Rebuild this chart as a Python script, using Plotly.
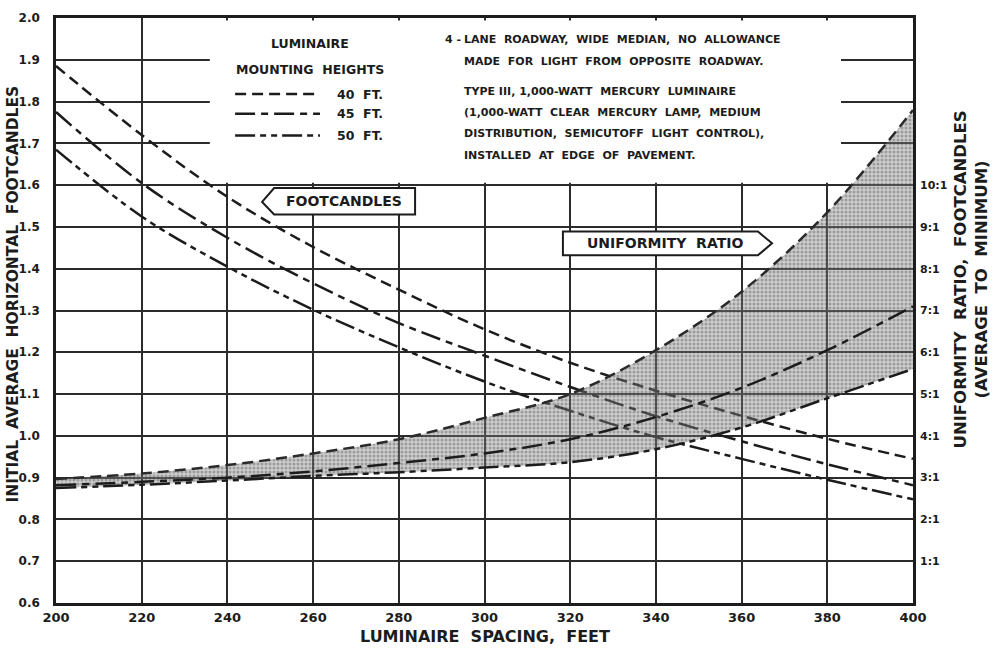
import plotly.graph_objects as go

# Luminaire spacing (feet)
spacing = [200, 220, 240, 260, 280, 300, 320, 340, 360, 380, 400]

# Initial average horizontal footcandles by mounting height
fc_40ft = [1.885, 1.72, 1.572, 1.452, 1.35, 1.255, 1.175, 1.108, 1.048, 0.993, 0.945]
fc_45ft = [1.775, 1.605, 1.474, 1.365, 1.27, 1.192, 1.117, 1.047, 0.987, 0.932, 0.882]
fc_50ft = [1.685, 1.525, 1.405, 1.302, 1.212, 1.13, 1.06, 0.997, 0.945, 0.895, 0.848]

# Uniformity ratio (average to minimum) by mounting height
ratio_40ft = [2.97, 3.1, 3.3, 3.58, 3.92, 4.43, 5.0, 6.05, 7.45, 9.35, 11.8]
ratio_45ft = [2.82, 2.9, 3.0, 3.15, 3.35, 3.58, 3.92, 4.45, 5.15, 6.05, 7.1]
ratio_50ft = [2.75, 2.83, 2.93, 3.04, 3.13, 3.24, 3.37, 3.68, 4.2, 4.9, 5.6]

# Axis ticks
fc_ticks = [round(0.6 + 0.1 * i, 1) for i in range(15)]
ratio_ticks = list(range(1, 11))
ratio_labels = [f"{r}:1" for r in ratio_ticks]

INK = "#1c1c1c"
FONT = "DejaVu Sans"
DASH_40 = "11px,6px"
DASH_45 = "20px,6px,7px,6px"
DASH_50 = "20px,5px,6px,5px,6px,5px"

fig = go.Figure()

# Uniformity band: lower edge (50 ft), upper edge (40 ft) filled with stipple
fig.add_trace(go.Scatter(
    x=spacing, y=ratio_50ft, yaxis="y2", mode="lines", line_shape="spline",
    line=dict(color=INK, width=2.5, dash=DASH_50), showlegend=False,
))
fig.add_trace(go.Scatter(
    x=spacing, y=ratio_40ft, yaxis="y2", mode="lines", line_shape="spline",
    line=dict(color="#2a2a2a", width=2.5, dash=DASH_40), fill="tonexty",
    fillpattern=dict(shape=".", fgcolor="rgba(40,40,40,0.6)",
                     bgcolor="rgba(135,135,135,0.42)", size=4, solidity=0.45),
    showlegend=False,
))
fig.add_trace(go.Scatter(
    x=spacing, y=ratio_45ft, yaxis="y2", mode="lines", line_shape="spline",
    line=dict(color=INK, width=2.5, dash=DASH_45), showlegend=False,
))

# Footcandle curves
for vals, dash in [(fc_40ft, DASH_40), (fc_45ft, DASH_45), (fc_50ft, DASH_50)]:
    fig.add_trace(go.Scatter(
        x=spacing, y=vals, mode="lines", line_shape="spline",
        line=dict(color=INK, width=2.5, dash=dash), showlegend=False,
    ))

shapes = [
    # clear panel behind the key and notes
    dict(type="rect", layer="between", xref="x", yref="y",
         x0=235.9, x1=383.2, y0=1.606, y1=1.994,
         fillcolor="white", line=dict(width=0)),
    # FOOTCANDLES tag pointing left
    dict(type="path", layer="above", xref="x", yref="y",
         path="M 248.1,1.560 L 250.9,1.593 L 283.8,1.593 L 283.8,1.530 L 250.9,1.530 Z",
         fillcolor="white", line=dict(color=INK, width=2)),
    # UNIFORMITY RATIO tag pointing right
    dict(type="path", layer="above", xref="x", yref="y",
         path="M 318.3,1.489 L 363.8,1.489 L 367.1,1.461 L 363.8,1.432 L 318.3,1.432 Z",
         fillcolor="white", line=dict(color=INK, width=2)),
]
# key line samples
for yk, dash in [(1.818, DASH_40), (1.771, DASH_45), (1.719, DASH_50)]:
    shapes.append(dict(type="line", layer="above", xref="x", yref="y",
                       x0=241.8, x1=261.6, y0=yk, y1=yk,
                       line=dict(color=INK, width=2.5, dash=dash)))

ann = []
def txt(x, y, s, size=12, xanchor="left", **kw):
    ann.append(dict(x=x, y=y, xref="x", yref="y", text=s, showarrow=False,
                    xanchor=xanchor, yanchor="middle",
                    font=dict(family=FONT, size=size, color=INK, weight="bold"), **kw))

txt(259.3, 1.939, "LUMINAIRE", size=12.5, xanchor="center")
txt(259.3, 1.877, "MOUNTING  HEIGHTS", size=12.5, xanchor="center")
txt(265.1, 1.818, "40  FT.", size=12.5)
txt(265.1, 1.771, "45  FT.", size=12.5)
txt(265.1, 1.719, "50  FT.", size=12.5)

txt(290.3, 1.948, "4 -", size=11)
notes = [
    (1.948, "LANE  ROADWAY,  WIDE  MEDIAN,  NO  ALLOWANCE"),
    (1.896, "MADE  FOR  LIGHT  FROM  OPPOSITE  ROADWAY."),
    (1.823, "TYPE III, 1,000-WATT  MERCURY  LUMINAIRE"),
    (1.773, "(1,000-WATT  CLEAR  MERCURY  LAMP,  MEDIUM"),
    (1.723, "DISTRIBUTION,  SEMICUTOFF  LIGHT  CONTROL),"),
    (1.671, "INSTALLED  AT  EDGE  OF  PAVEMENT."),
]
for yv, s in notes:
    txt(294.7, yv, s, size=11)

txt(267.3, 1.561, "FOOTCANDLES", size=14, xanchor="center")
txt(342.1, 1.461, "UNIFORMITY  RATIO", size=14, xanchor="center")

# axis titles
title_font = dict(family=FONT, size=16, color=INK, weight="bold")
ann.append(dict(x=-0.0502, y=0.529, xref="paper", yref="paper", showarrow=False,
                text="INITIAL  AVERAGE  HORIZONTAL  FOOTCANDLES", textangle=-90,
                xanchor="center", yanchor="middle",
                font=dict(family=FONT, size=15.5, color=INK, weight="bold")))
ann.append(dict(x=1.0677, y=0.553, xref="paper", yref="paper", showarrow=False,
                text="UNIFORMITY  RATIO,  FOOTCANDLES<br>(AVERAGE  TO  MINIMUM)",
                textangle=-90, xanchor="center", yanchor="middle",
                font=dict(family=FONT, size=16.5, color=INK, weight="bold")))
ann.append(dict(x=0.5, y=-0.0574, xref="paper", yref="paper", showarrow=False,
                text="LUMINAIRE  SPACING,  FEET", xanchor="center", yanchor="middle",
                font=title_font))

axis_common = dict(showgrid=True, gridcolor="#2b2b2b", gridwidth=2,
                   showline=True, mirror=True, linecolor=INK, linewidth=2.5,
                   zeroline=False, ticks="", fixedrange=True)

fig.update_layout(
    width=994, height=649,
    margin=dict(l=56, r=81, t=11, b=46),
    paper_bgcolor="white", plot_bgcolor="white",
    showlegend=False,
    shapes=shapes, annotations=ann,
    xaxis=dict(range=[200, 400], tickvals=spacing, ticklabelstandoff=1,
               tickfont=dict(family=FONT, size=13, color=INK, weight="bold"),
               **axis_common),
    yaxis=dict(range=[0.6, 2.0], tickvals=fc_ticks, tickformat=".1f",
               ticklabelstandoff=11,
               tickfont=dict(family=FONT, size=12, color=INK, weight="bold"),
               **axis_common),
    yaxis2=dict(range=[0, 14], overlaying="y", side="right", tickvals=ratio_ticks,
                ticktext=ratio_labels, showgrid=False, zeroline=False,
                showline=False, ticks="", ticklabelstandoff=6, fixedrange=True,
                tickfont=dict(family=FONT, size=11, color=INK, weight="bold")),
)

fig.write_html("out.html")
